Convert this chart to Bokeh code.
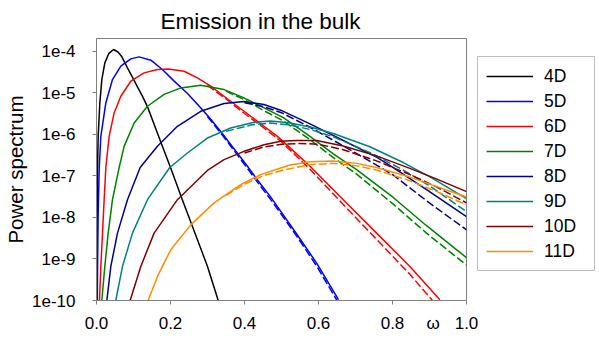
from bokeh.plotting import figure
from bokeh.models import (Range1d, FixedTicker, CustomJSTickFormatter, Legend,
                          LegendItem)
from bokeh.embed import file_html
from bokeh.resources import INLINE

# ---------------- data (omega, log10 of power spectrum) ----------------
series_names = ["4D", "5D", "6D", "7D", "8D", "9D", "10D", "11D"]
series_colors = ["#000000", "#0000FF", "#FF0000", "#008000",
                 "#00008B", "#008080", "#800000", "#FF8C00"]

omega_4d = [0.0008, 0.0015, 0.0027, 0.0045, 0.009, 0.0144, 0.0225, 0.033, 0.046,
            0.058, 0.0675, 0.0837, 0.0967, 0.1107, 0.124, 0.138, 0.165, 0.2,
            0.232, 0.266, 0.30, 0.329]
logp_4d = [-10, -8.5, -6.85, -6.05, -5.245, -4.683, -4.281, -4.06, -3.96,
           -4.02, -4.12, -4.40, -4.62, -4.86, -5.08, -5.34, -5.98, -6.80,
           -7.574, -8.378, -9.18, -10]

omega_5d = [0.0022, 0.0027, 0.0045, 0.0072, 0.0117, 0.0252, 0.0432, 0.0657, 0.0927,
            0.115, 0.147, 0.178, 0.21, 0.246, 0.282, 0.31, 0.34, 0.37, 0.408,
            0.434, 0.47, 0.5, 0.541, 0.595, 0.654]
logp_5d = [-10, -9.4, -7.9, -6.85, -6.05, -5.245, -4.683, -4.361, -4.185,
           -4.137, -4.217, -4.44, -4.72, -5.02, -5.37, -5.65, -5.98, -6.33, -6.77,
           -7.09, -7.5, -7.88, -8.40, -9.10, -9.98]
omega_5d_alt = [0.3, 0.34, 0.37, 0.408, 0.434, 0.47, 0.5, 0.541, 0.595, 0.65]
logp_5d_alt = [-5.57, -6.02, -6.37, -6.82, -7.14, -7.56, -7.93, -8.45, -9.17, -10.0]

omega_6d = [0.008, 0.0117, 0.0162, 0.0207, 0.0252, 0.0342, 0.0477, 0.0657, 0.0927,
            0.1287, 0.1647, 0.195, 0.2367, 0.2727, 0.3087, 0.3447, 0.3807, 0.4167,
            0.4527, 0.489, 0.53, 0.577, 0.667, 0.757, 0.847, 0.928]
logp_6d = [-10, -9.18, -8.378, -7.57, -6.8, -6.05, -5.486, -5.084, -4.723,
           -4.522, -4.442, -4.43, -4.482, -4.643, -4.843, -5.084, -5.325, -5.566,
           -5.807, -6.05, -6.38, -6.77, -7.574, -8.378, -9.18, -9.98]
omega_6d_alt = [0.3, 0.35, 0.4, 0.45, 0.5, 0.577, 0.667, 0.757, 0.847, 0.908]
logp_6d_alt = [-4.82, -5.15, -5.5, -5.83, -6.18, -6.84, -7.69, -8.53, -9.37, -10]

omega_7d = [0.0144, 0.0225, 0.0315, 0.0432, 0.0612, 0.0747, 0.1017, 0.1377, 0.1827,
            0.2277, 0.2817, 0.3447, 0.3987, 0.4527, 0.505, 0.577, 0.64, 0.703,
            0.802, 0.892, 1.0]
logp_7d = [-10, -9.18, -8.378, -7.574, -6.8, -6.29, -5.73, -5.325, -5.04,
           -4.884, -4.82, -4.924, -5.124, -5.365, -5.6, -6.05, -6.47, -6.85,
           -7.52, -8.20, -8.97]
omega_7d_alt = [0.35, 0.4, 0.45, 0.505, 0.577, 0.64, 0.703, 0.802, 0.892, 1.0]
logp_7d_alt = [-4.96, -5.17, -5.42, -5.68, -6.13, -6.56, -6.96, -7.68, -8.38, -9.15]

omega_8d = [0.028, 0.0387, 0.0567, 0.0837, 0.118, 0.1647, 0.2187, 0.2817, 0.3447,
            0.3987, 0.4527, 0.4977, 0.577, 0.667, 0.757, 0.802, 0.892, 1.0]
logp_8d = [-10, -9.18, -8.378, -7.574, -6.8, -6.29, -5.807, -5.446, -5.261,
           -5.213, -5.285, -5.42, -5.75, -6.15, -6.55, -6.80, -7.33, -7.98]
omega_8d_alt = [0.4, 0.45, 0.5, 0.577, 0.667, 0.757, 0.802, 0.892, 1.0]
logp_8d_alt = [-5.24, -5.33, -5.48, -5.83, -6.28, -6.74, -6.98, -7.60, -8.30]

omega_9d = [0.0522, 0.0702, 0.0972, 0.1377, 0.198, 0.2457, 0.2997, 0.3627, 0.4257,
            0.47, 0.52, 0.58, 0.64, 0.739, 0.829, 0.9, 1.0]
logp_9d = [-10, -9.18, -8.378, -7.574, -6.8, -6.45, -6.09, -5.85, -5.71,
           -5.68, -5.72, -5.83, -5.98, -6.30, -6.68, -7.02, -7.55]
omega_9d_alt = [0.35, 0.42, 0.47, 0.52, 0.58, 0.64, 0.739, 0.829, 0.9, 1.0]
logp_9d_alt = [-5.93, -5.77, -5.73, -5.77, -5.89, -6.06, -6.44, -6.86, -7.24, -7.86]

omega_10d = [0.0909, 0.1197, 0.1557, 0.2187, 0.2997, 0.3447, 0.3987, 0.4527, 0.4977,
             0.541, 0.595, 0.667, 0.757, 0.847, 0.92, 1.0]
logp_10d = [-10, -9.18, -8.378, -7.574, -6.87, -6.61, -6.41, -6.25, -6.17,
            -6.15, -6.15, -6.28, -6.52, -6.82, -7.08, -7.38]
omega_10d_alt = [0.4, 0.45, 0.5, 0.55, 0.6, 0.667, 0.757, 0.847, 0.92, 1.0]
logp_10d_alt = [-6.45, -6.31, -6.24, -6.22, -6.24, -6.37, -6.64, -6.97, -7.27, -7.65]

omega_11d = [0.1395, 0.1647, 0.2007, 0.2547, 0.3177, 0.3897, 0.4437, 0.4977, 0.523,
             0.577, 0.64, 0.703, 0.757, 0.847, 0.92, 1.0]
logp_11d = [-10, -9.42, -8.78, -8.18, -7.65, -7.21, -6.97, -6.81, -6.74,
            -6.66, -6.64, -6.70, -6.80, -7.03, -7.26, -7.51]
omega_11d_alt = [0.35, 0.4, 0.45, 0.5, 0.577, 0.64, 0.703, 0.757, 0.847, 0.92, 1.0]
logp_11d_alt = [-7.47, -7.2, -7.0, -6.87, -6.73, -6.70, -6.76, -6.86, -7.12, -7.38, -7.70]

x_ticks = [0.0, 0.2, 0.4, 0.6, 0.8, 1.0]
x_tick_labels = ["0.0", "0.2", "0.4", "0.6", "0.8", "1.0"]
x_axis_symbol = "ω"
x_axis_symbol_at = 0.91
y_ticks = [1e-10, 1e-9, 1e-8, 1e-7, 1e-6, 1e-5, 1e-4]
y_tick_labels = ["1e-10", "1e-9", "1e-8", "1e-7", "1e-6", "1e-5", "1e-4"]

solid_series = [(omega_4d, logp_4d), (omega_5d, logp_5d), (omega_6d, logp_6d),
                (omega_7d, logp_7d), (omega_8d, logp_8d), (omega_9d, logp_9d),
                (omega_10d, logp_10d), (omega_11d, logp_11d)]
dashed_series = [None, (omega_5d_alt, logp_5d_alt), (omega_6d_alt, logp_6d_alt),
                 (omega_7d_alt, logp_7d_alt), (omega_8d_alt, logp_8d_alt),
                 (omega_9d_alt, logp_9d_alt), (omega_10d_alt, logp_10d_alt),
                 (omega_11d_alt, logp_11d_alt)]

FONT = "Liberation Sans"

p = figure(frame_width=370, frame_height=262, output_backend="svg",
           toolbar_location=None,
           x_range=Range1d(0, 1.0), y_range=Range1d(1e-10, 2.02e-4),
           y_axis_type="log",
           min_border_left=96, min_border_right=133, min_border_top=38,
           min_border_bottom=36)

p.title.text = "Emission in the bulk"
p.title.text_font = FONT
p.title.text_font_size = "22.5px"
p.title.text_font_style = "normal"
p.title.text_color = "black"
p.title.align = "left"
p.title.offset = 64
p.title.standoff = 9

p.grid.visible = False
p.outline_line_color = "#808080"
p.outline_line_width = 1
p.background_fill_color = "white"
p.border_fill_color = "white"

for ax in (p.xaxis[0], p.yaxis[0]):
    ax.axis_line_color = "#808080"
    ax.major_tick_line_color = "#808080"
    ax.minor_tick_line_color = None
    ax.major_tick_out = 4
    ax.major_tick_in = 0
    ax.major_label_text_font = FONT
    ax.major_label_text_font_size = "17px"
    ax.major_label_text_color = "black"

# x axis: the real ticks are drawn as minor ticks; labels sit at the major ticks
xa = p.xaxis[0]
xa.ticker = FixedTicker(ticks=x_ticks + [x_axis_symbol_at], minor_ticks=x_ticks)
xa.formatter = CustomJSTickFormatter(
    args=dict(vals=x_ticks + [x_axis_symbol_at], labs=x_tick_labels + [x_axis_symbol]),
    code="for (let i = 0; i < vals.length; i++) { if (Math.abs(vals[i] - tick) < 1e-9) return labs[i]; } return '';")
xa.major_tick_line_color = None
xa.minor_tick_line_color = "#808080"
xa.minor_tick_out = 4
xa.minor_tick_in = 0
xa.major_label_standoff = 9

ya = p.yaxis[0]
ya.ticker = FixedTicker(ticks=y_ticks, minor_ticks=[])
ya.formatter = CustomJSTickFormatter(args=dict(labels=y_tick_labels),
                                     code="return labels[index];")
ya.major_label_standoff = 17
ya.axis_label = "Power spectrum"
ya.axis_label_text_font = FONT
ya.axis_label_text_font_size = "20.5px"
ya.axis_label_text_font_style = "normal"
ya.axis_label_text_color = "black"
ya.axis_label_standoff = 2

items = []
for name, color, solid, dashed in zip(series_names, series_colors,
                                      solid_series, dashed_series):
    xs, lp = solid
    r = p.line(xs, [10 ** v for v in lp], line_color=color, line_width=1.5)
    if dashed is not None:
        dx, dlp = dashed
        p.line(dx, [10 ** v for v in dlp], line_color=color, line_width=1.5,
               line_dash="8 3")
    items.append(LegendItem(label=name, renderers=[r]))

legend = Legend(items=items, location=(11, 29), margin=0,
                padding=8, spacing=3, glyph_width=47, glyph_height=22,
                label_height=22, label_width=42, label_standoff=11,
                label_text_font=FONT, label_text_font_size="17.5px",
                label_text_color="black",
                border_line_color="#808080", border_line_width=1,
                background_fill_color="white", background_fill_alpha=1)
p.add_layout(legend, "right")

open("out.html", "w").write(file_html(p, INLINE))
